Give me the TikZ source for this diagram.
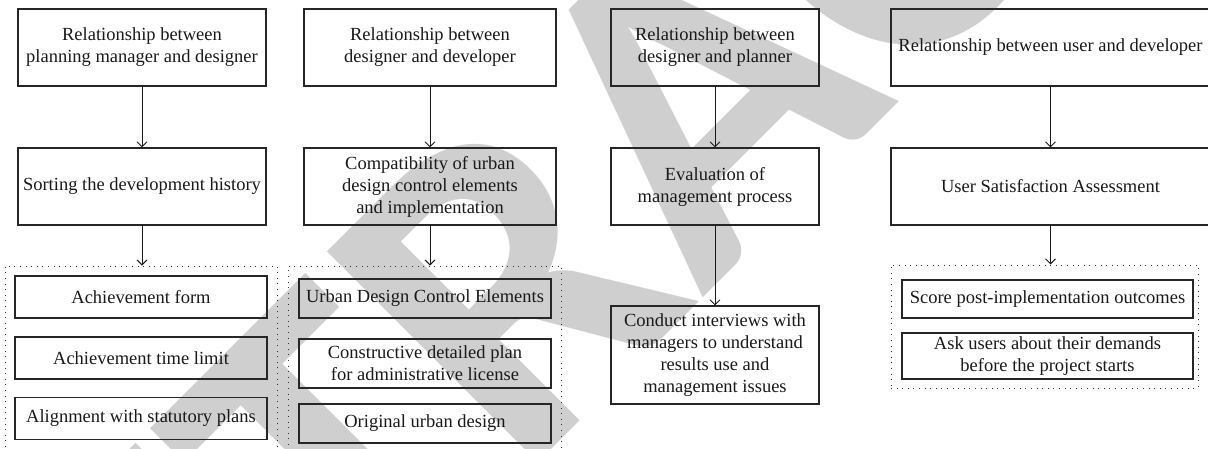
\documentclass[tikz,border=0pt]{standalone}
\usepackage{fontspec}
\setmainfont{Liberation Serif}
\newfontfamily\wmfont{Carlito}
\usetikzlibrary{arrows.meta}
\begin{document}
\begin{tikzpicture}[x=1pt,y=-1pt,
  bx/.style={draw=black!85, line width=1.1pt, inner sep=0pt, align=center,
    font=\fontsize{18.5}{22}\selectfont, text=black!90},
  grp/.style={draw=black!80, line width=1pt, dash pattern=on 1pt off 4.6pt, inner sep=0pt},
  arr/.style={draw=black!90, line width=0.9pt, -{Straight Barb[length=5pt,width=10pt]}},
  wm/.style={text=black!19, font=\wmfont\bfseries\fontsize{460}{460}\selectfont, inner sep=0pt}]
\useasboundingbox (0,0) rectangle (1208,448);
% watermark
\node[wm, rotate=45] (wm) at (700,90) {RETRACTED};
% column 1
\node[bx, minimum width=248, minimum height=77] (a1) at (142,47.5) {Relationship between\\planning manager and designer};
\node[bx, minimum width=248, minimum height=77] (a2) at (142,186.5) {Sorting the development history};
\node[grp, minimum width=272, minimum height=200] (ga) at (141,366) {};
\node[bx, minimum width=252, minimum height=42] (a3) at (141,297) {Achievement form};
\node[bx, minimum width=252, minimum height=42] (a4) at (141,358) {Achievement time limit};
\node[bx, minimum width=252, minimum height=42] (a5) at (141,418.5) {Alignment with statutory plans};
% column 2
\node[bx, minimum width=252, minimum height=77] (b1) at (430,47.5) {Relationship between\\designer and developer};
\node[bx, minimum width=252, minimum height=77] (b2) at (430,186.5) {Compatibility of urban\\design control elements\\and implementation};
\node[grp, minimum width=273, minimum height=200] (gb) at (425,366) {};
\node[bx, minimum width=252, minimum height=39] (b3) at (425,298.5) {Urban Design Control Elements};
\node[bx, minimum width=252, minimum height=49] (b4) at (425,363.5) {Constructive detailed plan\\for administrative license};
\node[bx, minimum width=252, minimum height=39] (b5) at (425,423.5) {Original urban design};
% column 3
\node[bx, minimum width=208, minimum height=77] (c1) at (715,47.5) {Relationship between\\designer and planner};
\node[bx, minimum width=208, minimum height=77] (c2) at (715,186.5) {Evaluation of\\management process};
\node[bx, minimum width=208, minimum height=98] (c3) at (715,355) {Conduct interviews with\\managers to understand\\results use and\\management issues};
% column 4
\node[bx, minimum width=319, minimum height=77] (d1) at (1050.5,47.5) {Relationship between user and developer};
\node[bx, minimum width=319, minimum height=77] (d2) at (1050.5,186.5) {User Satisfaction Assessment};
\node[grp, minimum width=307, minimum height=123] (gd) at (1044.5,326.5) {};
\node[bx, minimum width=291, minimum height=38] (d3) at (1047.5,299) {Score post-implementation outcomes};
\node[bx, minimum width=291, minimum height=46] (d4) at (1047.5,356) {Ask users about their demands\\before the project starts};
% connectors
\draw[arr] (a1.south) -- (a2.north);
\draw[arr] (a2.south) -- (a2.south |- ga.north);
\draw[arr] (b1.south) -- (b2.north);
\draw[arr] (b2.south) -- (b2.south |- gb.north);
\draw[arr] (c1.south) -- (c2.north);
\draw[arr] (c2.south) -- (c3.north);
\draw[arr] (d1.south) -- (d2.north);
\draw[arr] (d2.south) -- (d2.south |- gd.north);
\end{tikzpicture}
\end{document}
